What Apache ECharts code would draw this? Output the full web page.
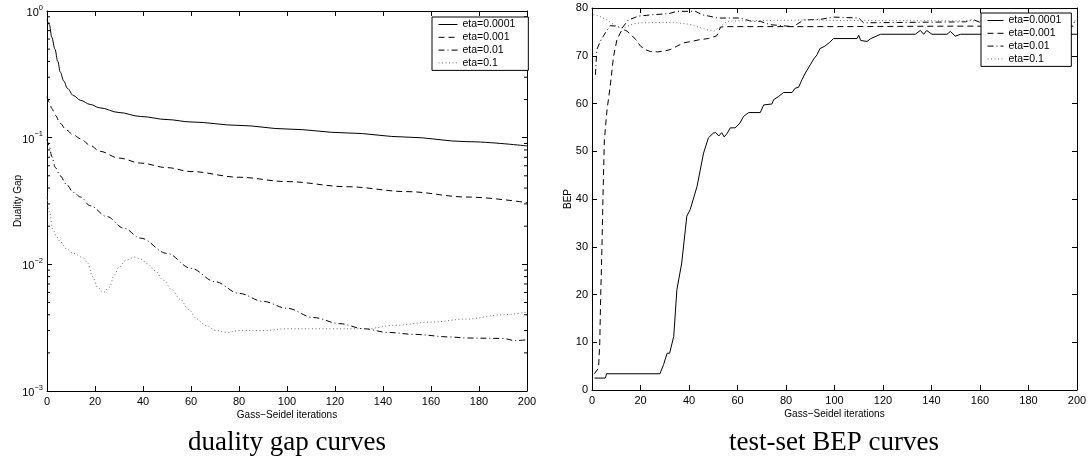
<!DOCTYPE html>
<html><head><meta charset="utf-8">
<script src="https://cdn.jsdelivr.net/npm/echarts@6/dist/echarts.min.js"></script>
<style>html,body{margin:0;padding:0;background:#fff}#c{width:1091px;height:463px}</style>
</head><body><div id="c"></div>
<script>
// ---------- data ----------
const seriesNames = ['eta=0.0001', 'eta=0.001', 'eta=0.01', 'eta=0.1'];
const xTicks = [0, 20, 40, 60, 80, 100, 120, 140, 160, 180, 200];
const captions = ['duality gap curves', 'test-set BEP curves'];

// duality gap (log scale)
const gapIterA = [0, 1, 2, 3.3, 4.5, 5.5, 7, 8.5, 11, 14, 18, 22, 30, 39, 50, 60, 80, 100, 125, 150, 175, 200];
const gapValA  = [0.85, 0.78, 0.62, 0.50, 0.40, 0.33, 0.28, 0.245, 0.215, 0.197, 0.183, 0.172, 0.158, 0.147, 0.139, 0.133, 0.125, 0.117, 0.109, 0.101, 0.093, 0.086];
const gapIterB = [0, 1, 2, 3.5, 5.5, 8, 11, 14, 18, 22, 30, 39, 50, 60, 80, 100, 125, 150, 175, 200];
const gapValB  = [0.21, 0.19, 0.17, 0.15, 0.13, 0.115, 0.105, 0.098, 0.087, 0.078, 0.069, 0.063, 0.058, 0.054, 0.0487, 0.045, 0.041, 0.0375, 0.034, 0.0307];
const gapIterC = [0, 1, 2, 3.5, 5.5, 8, 11, 14, 18, 25, 32, 39, 50, 60, 70, 80, 90, 100, 111, 122, 132, 142, 153, 168, 175, 190, 195, 200];
const gapValC  = [0.097, 0.085, 0.071, 0.058, 0.050, 0.043, 0.037, 0.034, 0.029, 0.0238, 0.0193, 0.0161, 0.0122, 0.0093, 0.0073, 0.0059, 0.0051, 0.0045, 0.0038, 0.0034, 0.0031, 0.0029, 0.0028, 0.00267, 0.00262, 0.0026, 0.0025, 0.00254];
const gapIterD = [0, 1, 2.5, 4, 5.5, 8, 11, 15, 17, 19, 21, 23.5, 26, 28, 30, 33, 36.5, 39, 42, 45, 48.5, 52, 55.5, 59, 62.5, 66, 70.5, 75, 80, 90, 100, 110, 120, 133, 145, 160, 175, 190, 200];
const gapValD  = [0.034, 0.026, 0.0187, 0.0165, 0.0151, 0.0133, 0.0122, 0.0113, 0.0102, 0.0080, 0.0066, 0.0060, 0.0066, 0.0082, 0.0095, 0.0108, 0.0114, 0.0110, 0.0101, 0.0089, 0.0075, 0.0063, 0.0053, 0.0044, 0.0037, 0.0033, 0.0030, 0.0029, 0.0030, 0.0030, 0.0031, 0.0031, 0.0031, 0.0031, 0.0033, 0.0035, 0.0037, 0.0040, 0.0042];

// test-set BEP
const bepIterA = [1, 5.5, 6, 28, 29.5, 31, 32, 33.7, 35, 37, 38.5, 39.1, 40.5, 43.3, 46, 48, 50, 51, 52.3, 53.5, 54.5, 55.8, 57, 59, 61, 62.5, 64.6, 69.4, 70.8, 74.2, 74.9, 77, 79, 82.5, 83.8, 85.2, 86.6, 88, 90, 91.4, 92.8, 94, 96, 98, 99.6, 109.3, 110, 110.8, 113.4, 115, 119, 133.3, 135.4, 136.8, 138, 140.2, 146.4, 147.8, 149.8, 152, 200];
const bepValA  = [2.5, 2.5, 3.4, 3.4, 5.3, 7.7, 7.7, 11.2, 21, 26.6, 33.6, 36.4, 37.8, 42.6, 49.6, 52.8, 53.8, 53.9, 53.2, 53.9, 53.0, 53.8, 54.9, 54.9, 55.9, 57.3, 58.1, 58.1, 59.7, 59.9, 60.8, 61.5, 62.3, 62.3, 63.2, 63.4, 65, 66.4, 68.1, 69.3, 70.2, 71.5, 72, 72.8, 73.6, 73.6, 74.3, 73.2, 73, 73.6, 74.5, 74.5, 75.3, 74.5, 75.3, 74.5, 74.5, 75.1, 74.1, 74.5, 74.5];
const bepIterB = [1, 2.7, 3.2, 3.6, 4.1, 4.5, 5.1, 6.2, 7.5, 8.9, 10.3, 12.4, 14, 16, 18, 20, 22, 24, 27, 30, 32.3, 35, 37.8, 41, 44.7, 48, 51.5, 53, 55, 100, 150, 200];
const bepValB  = [3.4, 4.6, 9.9, 20, 29.7, 39.9, 52.4, 58.7, 63.6, 69.9, 73.4, 75.5, 75.3, 74.5, 73.4, 72, 71.3, 70.9, 70.8, 71, 71.3, 72, 72.7, 73, 73.4, 73.6, 74.2, 76, 76.1, 76.1, 76.2, 76.2];
const bepIterC = [1.4, 2, 3.4, 5.5, 7.5, 10, 12.4, 15, 19.2, 25, 31.6, 35, 42.6, 45.4, 52, 61, 66, 69.4, 73.5, 83, 87.3, 94, 99.6, 110, 112, 154, 157, 160, 200];
const bepValC  = [66, 71.3, 73, 74.8, 76.3, 76.2, 75.8, 77.5, 78.3, 78.6, 78.8, 79.3, 79.3, 78.6, 77.9, 77.9, 77.2, 77.2, 76.5, 76.1, 77.5, 77.6, 78.1, 77.9, 76.9, 77.1, 77.6, 77, 77];
const bepIterD = [0.5, 3, 6.2, 9, 11.7, 14, 17, 20, 33.7, 40, 43.3, 47, 50.1, 52.9, 55.7, 60, 91, 100, 150, 200];
const bepValD  = [78.6, 78.3, 77.5, 76.5, 75.8, 76, 76.7, 76.9, 77, 76.6, 76.1, 75.5, 75.1, 76.1, 77.2, 77.3, 77.5, 77.4, 77.3, 77.3];

// ---------- chart ----------
const FONT = '"Liberation Sans", Arial, Helvetica, sans-serif';
const zip = (xs, ys) => xs.map((x, i) => [x, ys[i]]);
const lineStyles = [
  { color: '#000', type: 'solid', width: 1 },
  { color: '#000', type: [6, 4], width: 1 },
  { color: '#000', type: [6, 3, 1, 3], width: 1 },
  { color: '#6e6e6e', type: [1, 2.5], width: 1 }
];
const gapData = [zip(gapIterA, gapValA), zip(gapIterB, gapValB), zip(gapIterC, gapValC), zip(gapIterD, gapValD)];
const bepData = [zip(bepIterA, bepValA), zip(bepIterB, bepValB), zip(bepIterC, bepValC), zip(bepIterD, bepValD)];

const minorLog = [];
for (let e = -3; e < 0; e++) for (let m = 2; m <= 9; m++) minorLog.push([0, m * Math.pow(10, e)]);

const axisLineStyle = { show: true, onZero: false, lineStyle: { color: '#000', width: 1 } };
const tickIn = { show: true, inside: true, length: 5, lineStyle: { color: '#000', width: 1 } };
const lbl = { color: '#000', fontSize: 11, fontFamily: FONT };
const nameStyle = { fontSize: 10, color: '#000', fontFamily: FONT };

function xAx(grid, pos) {
  const a = {
    gridIndex: grid, type: 'value', min: 0, max: 200, interval: 20, position: pos,
    axisLine: axisLineStyle, axisTick: tickIn, splitLine: { show: false },
    axisLabel: pos === 'bottom' ? Object.assign({ margin: 5 }, lbl) : { show: false }
  };
  if (pos === 'bottom') {
    a.name = 'Gass\u2212Seidel iterations';
    a.nameLocation = 'middle';
    a.nameGap = 19;
    a.nameMoveOverlap = false;
    a.nameTextStyle = nameStyle;
  }
  return a;
}

function legendOpt(left, top, iw, pad) {
  return {
    data: seriesNames, orient: 'vertical', left: left, top: top,
    itemWidth: iw, itemHeight: 10, itemGap: 1.8, padding: pad,
    borderColor: '#000', borderWidth: 1, borderRadius: 0, backgroundColor: '#fff',
    itemStyle: { opacity: 0 },
    lineStyle: { type: 'inherit', width: 1 },
    textStyle: { fontSize: 10.5, color: '#000', fontFamily: FONT, lineHeight: 10 },
    selectedMode: false, z: 10
  };
}

const option = {
  animation: false,
  backgroundColor: '#fff',
  grid: [
    { left: 47, top: 11, width: 480, height: 380 },
    { left: 592, top: 8, width: 485, height: 382 }
  ],
  xAxis: [xAx(0, 'bottom'), xAx(0, 'top'), xAx(1, 'bottom'), xAx(1, 'top')],
  yAxis: [
    {
      gridIndex: 0, type: 'log', logBase: 10, min: 0.001, max: 1, splitNumber: 3, position: 'left',
      axisLine: axisLineStyle, axisTick: tickIn, splitLine: { show: false }, minorTick: { show: false },
      axisLabel: {
        margin: 4,
        formatter: v => {
          const e = Math.round(Math.log10(v));
          return '{b|10}{s|' + (e < 0 ? '\u2212' + (-e) : e) + '}';
        },
        rich: {
          b: { fontSize: 11, color: '#000', fontFamily: FONT, verticalAlign: 'bottom', lineHeight: 15, padding: [3, 0, 0, 0] },
          s: { fontSize: 7.5, color: '#000', fontFamily: FONT, verticalAlign: 'top', lineHeight: 9 }
        }
      },
      name: 'Duality Gap', nameLocation: 'middle', nameGap: 24, nameMoveOverlap: false,
      nameTextStyle: nameStyle
    },
    {
      gridIndex: 0, type: 'log', logBase: 10, min: 0.001, max: 1, splitNumber: 3, position: 'right',
      axisLine: axisLineStyle, axisTick: tickIn, splitLine: { show: false }, axisLabel: { show: false }
    },
    {
      gridIndex: 1, type: 'value', min: 0, max: 80, interval: 10, position: 'left',
      axisLine: axisLineStyle, axisTick: tickIn, splitLine: { show: false },
      axisLabel: Object.assign({ margin: 4 }, lbl),
      name: 'BEP', nameLocation: 'middle', nameGap: 19, nameMoveOverlap: false,
      nameTextStyle: nameStyle
    },
    {
      gridIndex: 1, type: 'value', min: 0, max: 80, interval: 10, position: 'right',
      axisLine: axisLineStyle, axisTick: tickIn, splitLine: { show: false }, axisLabel: { show: false }
    }
  ],
  legend: [
    legendOpt(432, 17, 19, [2, 13, 2, 6]),
    legendOpt(981, 13, 16, [2, 10, 2, 6])
  ],
  graphic: [
    { type: 'text', x: 287, y: 443, style: { text: captions[0], font: '27px "Liberation Serif", "DejaVu Serif", serif', fill: '#000', align: 'center', verticalAlign: 'middle' } },
    { type: 'text', x: 834, y: 443, style: { text: captions[1], font: '27px "Liberation Serif", "DejaVu Serif", serif', fill: '#000', align: 'center', verticalAlign: 'middle' } }
  ],
  series: []
};

seriesNames.forEach((n, i) => {
  option.series.push({
    name: n, type: 'line', xAxisIndex: 0, yAxisIndex: 0, data: gapData[i],
    symbol: 'none', smooth: 0.35, smoothMonotone: 'x', lineStyle: lineStyles[i], itemStyle: { color: lineStyles[i].color },
    z: 3
  });
});
seriesNames.forEach((n, i) => {
  option.series.push({
    name: n, type: 'line', xAxisIndex: 2, yAxisIndex: 2, data: bepData[i],
    symbol: 'none', lineStyle: lineStyles[i], itemStyle: { color: lineStyles[i].color },
    z: 3
  });
});
option.series.push({
  type: 'custom', xAxisIndex: 0, yAxisIndex: 0, data: minorLog, silent: true, clip: false, z: 4,
  renderItem: (params, api) => {
    const v = api.value(1);
    const a = api.coord([0, v]);
    const b = api.coord([200, v]);
    return {
      type: 'group', children: [
        { type: 'line', shape: { x1: a[0], y1: a[1], x2: a[0] + 3, y2: a[1] }, style: { stroke: '#000', lineWidth: 1 } },
        { type: 'line', shape: { x1: b[0], y1: b[1], x2: b[0] - 3, y2: b[1] }, style: { stroke: '#000', lineWidth: 1 } }
      ]
    };
  }
});

const chart = echarts.init(document.getElementById('c'), null, { renderer: 'canvas' });
chart.setOption(option);
</script>
</body></html>
